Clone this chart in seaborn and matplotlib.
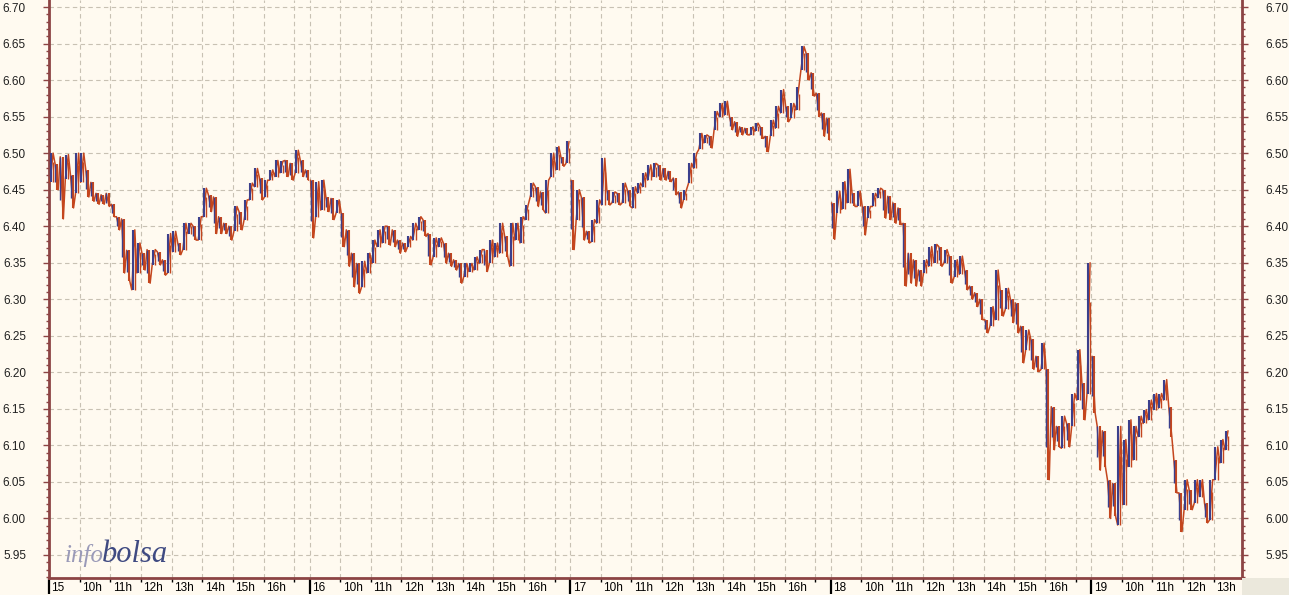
import numpy as np
import pandas as pd
import matplotlib
matplotlib.use("Agg")
import matplotlib.pyplot as plt
import seaborn as sns
from matplotlib.transforms import ScaledTranslation
from matplotlib.patches import Rectangle
from matplotlib.ticker import FixedLocator, FixedFormatter, MultipleLocator, FormatStrFormatter

# ---------------- data (10-minute high / low) ----------------
day_labels = ["15", "16", "17", "18", "19"]
hour_labels = ["10h", "11h", "12h", "13h", "14h", "15h", "16h", ""]

d15_hi = [6.500, 6.485, 6.495, 6.498, 6.470, 6.500, 6.500, 6.477, 6.460, 6.445, 6.443, 6.445,
          6.430, 6.413, 6.410, 6.367, 6.395, 6.377, 6.363, 6.368, 6.368, 6.365, 6.354, 6.390,
          6.393, 6.377, 6.404, 6.404, 6.400, 6.413, 6.452, 6.443, 6.440, 6.413, 6.404, 6.400,
          6.427, 6.420, 6.436, 6.459, 6.479, 6.466, 6.463, 6.477, 6.490, 6.489, 6.490, 6.486,
          6.504, 6.490, 6.477]
d15_lo = [6.460, 6.450, 6.410, 6.465, 6.425, 6.445, 6.460, 6.440, 6.434, 6.430, 6.430, 6.427,
          6.413, 6.395, 6.336, 6.325, 6.313, 6.336, 6.340, 6.322, 6.347, 6.347, 6.333, 6.336,
          6.365, 6.361, 6.368, 6.390, 6.381, 6.381, 6.413, 6.420, 6.390, 6.390, 6.390, 6.381,
          6.393, 6.395, 6.409, 6.436, 6.454, 6.436, 6.440, 6.463, 6.468, 6.473, 6.468, 6.463,
          6.473, 6.468, 6.463]

d16_hi = [6.463, 6.461, 6.463, 6.440, 6.438, 6.436, 6.418, 6.395, 6.363, 6.349, 6.352, 6.363,
          6.381, 6.395, 6.400, 6.400, 6.395, 6.381, 6.377, 6.386, 6.404, 6.413, 6.409, 6.390,
          6.384, 6.384, 6.377, 6.363, 6.354, 6.349, 6.349, 6.349, 6.358, 6.368, 6.368, 6.381,
          6.377, 6.404, 6.386, 6.404, 6.404, 6.413, 6.429, 6.459, 6.454, 6.447, 6.463, 6.500,
          6.509, 6.495, 6.516]
d16_lo = [6.384, 6.413, 6.422, 6.420, 6.409, 6.418, 6.372, 6.345, 6.317, 6.308, 6.317, 6.336,
          6.349, 6.372, 6.377, 6.374, 6.372, 6.363, 6.365, 6.372, 6.381, 6.395, 6.386, 6.347,
          6.358, 6.372, 6.349, 6.345, 6.340, 6.322, 6.331, 6.338, 6.340, 6.349, 6.338, 6.349,
          6.358, 6.363, 6.358, 6.345, 6.381, 6.377, 6.409, 6.440, 6.427, 6.422, 6.418, 6.468,
          6.477, 6.482, 6.486]

d17_hi = [6.463, 6.450, 6.440, 6.393, 6.409, 6.436, 6.493, 6.450, 6.447, 6.445, 6.459, 6.450,
          6.454, 6.459, 6.473, 6.484, 6.486, 6.484, 6.479, 6.475, 6.466, 6.447, 6.450, 6.486,
          6.500, 6.527, 6.525, 6.523, 6.557, 6.568, 6.571, 6.550, 6.543, 6.536, 6.534, 6.536,
          6.541, 6.536, 6.523, 6.545, 6.564, 6.587, 6.564, 6.568, 6.591, 6.646, 6.637, 6.610,
          6.582, 6.555, 6.548]
d17_lo = [6.368, 6.409, 6.381, 6.377, 6.379, 6.404, 6.429, 6.429, 6.432, 6.429, 6.432, 6.427,
          6.425, 6.445, 6.454, 6.463, 6.468, 6.463, 6.463, 6.461, 6.443, 6.425, 6.436, 6.459,
          6.479, 6.505, 6.514, 6.507, 6.532, 6.550, 6.552, 6.532, 6.523, 6.525, 6.525, 6.525,
          6.530, 6.520, 6.502, 6.523, 6.534, 6.555, 6.543, 6.548, 6.559, 6.614, 6.600, 6.578,
          6.550, 6.523, 6.518]

d18_hi = [6.432, 6.448, 6.461, 6.478, 6.445, 6.448, 6.427, 6.427, 6.445, 6.452, 6.450, 6.441,
          6.432, 6.425, 6.404, 6.363, 6.354, 6.340, 6.354, 6.372, 6.375, 6.372, 6.368, 6.359,
          6.354, 6.359, 6.340, 6.318, 6.309, 6.300, 6.272, 6.290, 6.340, 6.313, 6.315, 6.300,
          6.295, 6.263, 6.258, 6.245, 6.222, 6.240, 6.204, 6.153, 6.126, 6.140, 6.130, 6.171,
          6.231, 6.185, 6.350]
d18_lo = [6.382, 6.418, 6.423, 6.432, 6.427, 6.427, 6.388, 6.411, 6.427, 6.439, 6.411, 6.409,
          6.404, 6.402, 6.318, 6.322, 6.318, 6.318, 6.336, 6.345, 6.350, 6.345, 6.350, 6.322,
          6.331, 6.334, 6.313, 6.300, 6.290, 6.272, 6.254, 6.263, 6.272, 6.277, 6.286, 6.268,
          6.254, 6.213, 6.231, 6.204, 6.201, 6.204, 6.053, 6.094, 6.098, 6.096, 6.098, 6.126,
          6.162, 6.135, 6.171]

d19_hi = [6.222, 6.126, 6.120, 6.053, 6.048, 6.126, 6.108, 6.135, 6.126, 6.140, 6.149, 6.162,
          6.171, 6.171, 6.190, 6.153, 6.080, 6.035, 6.053, 6.039, 6.053, 6.053, 6.021, 6.053,
          6.098, 6.108, 6.120]
d19_lo = [6.144, 6.066, 6.071, 6.000, 6.003, 5.991, 6.019, 6.071, 6.080, 6.112, 6.130, 6.135,
          6.149, 6.151, 6.162, 6.112, 6.035, 5.982, 6.012, 6.012, 6.021, 6.030, 5.994, 5.998,
          6.053, 6.076, 6.094]

# ---------------- style ----------------
W, H = 1289, 595
BG = "#fffaf0"
AXIS = "#8c4444"
BLUE = "#3b3f8c"
RED = "#c4461e"
GRID = "#c8c1b3"
SESSION = 8.5          # 9:00 - 17:30
BAR_H = 1 / 6          # 10 minutes
PT = 0.72              # points per pixel at 100 dpi

sns.set_theme(style="white")
plt.rcParams["font.family"] = ["Liberation Sans", "DejaVu Sans"]

fig = plt.figure(figsize=(W / 100, H / 100), dpi=100, facecolor=BG)
ax = fig.add_axes([49 / W, (H - 578) / H, (1242 - 49) / W, 578 / H])
ax.set_facecolor(BG)

his = [d15_hi, d16_hi, d17_hi, d18_hi, d19_hi]
los = [d15_lo, d16_lo, d17_lo, d18_lo, d19_lo]
rows = []
for d, (hi, lo) in enumerate(zip(his, los)):
    for i, (h, l) in enumerate(zip(hi, lo)):
        rows.append({"day": d, "x": d * SESSION + (i + 0.5) * BAR_H, "hi": h, "lo": l})
df = pd.DataFrame(rows)
df["mid"] = (df["hi"] + df["lo"]) / 2
df["up"] = df["mid"].diff().fillna(0) >= 0

# zig-zag path through every bar's range (low->high on up bars, high->low on down bars)
zz = []
for _, r in df.iterrows():
    a, b = (r["lo"], r["hi"]) if r["up"] else (r["hi"], r["lo"])
    zz.append({"day": r["day"], "x": r["x"] - BAR_H * 0.3, "y": a})
    zz.append({"day": r["day"], "x": r["x"] + BAR_H * 0.3, "y": b})
zz = pd.DataFrame(zz)
for d, g in zz.groupby("day"):
    sns.lineplot(data=g, x="x", y="y", ax=ax, color=RED, lw=1.1, estimator=None,
                 sort=False, legend=False, zorder=3)

up = df[df["up"]]
dn = df[~df["up"]]
ax.vlines(dn["x"] + BAR_H * 0.15, dn["lo"], dn["hi"], colors=RED, linewidth=1.5, zorder=4)
ax.vlines(up["x"] - BAR_H * 0.15, up["lo"], up["hi"], colors=BLUE, linewidth=1.5, zorder=4)
ax.vlines(dn["x"] - BAR_H * 0.25, dn["lo"] + (dn["hi"] - dn["lo"]) * 0.3, dn["hi"],
          colors=BLUE, linewidth=1.0, zorder=4)
ax.vlines(up["x"] + BAR_H * 0.25, up["lo"], up["hi"] - (up["hi"] - up["lo"]) * 0.3,
          colors=RED, linewidth=1.0, zorder=4)

# ---------------- axes ----------------
ax.set_xlim(0, (1242 - 49) / 30.65)
ax.set_ylim(5.9185, 6.7096)
ax.set_xlabel("")
ax.set_ylabel("")

day_pos = [d * SESSION for d in range(len(day_labels))]
hour_pos, hour_txt = [], []
for d in range(len(day_labels)):
    nh = 8 if d < len(day_labels) - 1 else 4
    for k in range(1, nh + 1):
        hour_pos.append(d * SESSION + k)
        hour_txt.append(hour_labels[k - 1])

ax.xaxis.set_major_locator(FixedLocator(day_pos))
ax.xaxis.set_major_formatter(FixedFormatter(day_labels))
ax.xaxis.set_minor_locator(FixedLocator(hour_pos))
ax.xaxis.set_minor_formatter(FixedFormatter(hour_txt))
ax.tick_params(axis="x", which="major", direction="out", length=16 * PT, width=1.6,
               color="black", pad=(4 - 16) * PT, labelsize=8.5, labelcolor="black", bottom=True)
ax.tick_params(axis="x", which="minor", direction="out", length=4 * PT, width=1.0,
               color="black", pad=0 * PT, labelsize=8.5, labelcolor="black", bottom=True)
off = ScaledTranslation(2.5 / 100, 0, fig.dpi_scale_trans)
for lab in ax.get_xticklabels(which="both"):
    lab.set_horizontalalignment("left")
    lab.set_transform(lab.get_transform() + off)

ax.yaxis.set_major_locator(MultipleLocator(0.05))
ax.yaxis.set_minor_locator(MultipleLocator(0.01))
ax.yaxis.set_major_formatter(FormatStrFormatter("%.2f"))
ax.tick_params(axis="y", which="both", direction="out", left=True, right=True,
               labelleft=True, labelright=True, color=AXIS)
ax.tick_params(axis="y", which="major", length=6 * PT, width=1.0, pad=17 * PT, labelsize=8.5,
               labelcolor="#202020")
ax.tick_params(axis="y", which="minor", length=3 * PT, width=1.0)

ax.xaxis.grid(True, which="both", color=GRID, linestyle=(0, (4, 3)), linewidth=0.8)
ax.yaxis.grid(True, which="major", color=GRID, linestyle=(0, (4, 3)), linewidth=0.8)
ax.set_axisbelow(True)

for s in ["left", "right", "bottom"]:
    ax.spines[s].set_color(AXIS)
    ax.spines[s].set_linewidth(2.0)
ax.spines["top"].set_visible(False)

fig.patches.append(Rectangle((1242 / W, 0), 1 - 1242 / W, 17 / H, transform=fig.transFigure,
                             facecolor="#ebe8dc", edgecolor="none", zorder=0))

# watermark
fig.text(65 / W, (H - 562) / H, "info", fontsize=18, style="italic",
         family=["Liberation Serif", "DejaVu Serif"], color="#9a9ab8", va="baseline")
fig.text(102 / W, (H - 562) / H, "bolsa", fontsize=22, style="italic",
         family=["Liberation Serif", "DejaVu Serif"], color="#3f4a82", va="baseline")

fig.savefig("out.png", dpi=100, facecolor=BG)
